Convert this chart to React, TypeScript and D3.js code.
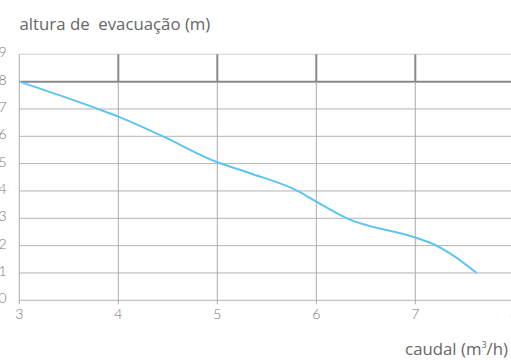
import React from "react";
import * as d3 from "d3";

const xTicks = [3, 4, 5, 6, 7, 8];
const yTicks = [0, 1, 2, 3, 4, 5, 6, 7, 8, 9];
const flowValues = [3, 3.78, 4, 4.42, 5, 5.33, 5.83, 6, 6.31, 7, 7.18, 7.35, 7.62];
const headValues = [8, 7.02, 6.72, 6.05, 5.05, 4.65, 3.97, 3.61, 3.0, 2.3, 2.06, 1.72, 1.0];
const titleY = "altura de  evacuação (m)";
const titleX = "caudal (m";

export default function App() {
  const W = 511, H = 360;
  const x = d3.scaleLinear().domain([3, 8]).range([19.3, 514.3]);
  const y = d3.scaleLinear().domain([0, 9]).range([300.3, 54.3]);
  const pts: [number, number][] = flowValues.map((f, i) => [f, headValues[i]]);
  const line = d3.line<[number, number]>()
    .x(d => x(d[0])).y(d => y(d[1]))
    .curve(d3.curveMonotoneX);
  const font = "Lato, 'Open Sans', sans-serif";
  return (
    <svg width={W} height={H} style={{ position: "absolute", left: 0, top: 0, background: "#fff" }}>
      {yTicks.map(t => (
        <line key={"h" + t} x1={x(3)} x2={W} y1={y(t)} y2={y(t)}
          stroke={t === 8 ? "#888" : t === 9 ? "#d0d0d0" : "#b3b3b3"}
          strokeWidth={t === 8 ? 2 : 1} />
      ))}
      {xTicks.map(t => (
        <g key={"v" + t}>
          <line x1={x(t)} x2={x(t)} y1={y(8)} y2={y(0) + 4} stroke="#aaa" strokeWidth={1} />
          <line x1={x(t)} x2={x(t)} y1={y(9)} y2={y(8)} stroke={t === 3 ? "#aaa" : "#888"} strokeWidth={t === 3 ? 1 : 2} />
        </g>
      ))}
      <path d={line(pts) || ""} fill="none" stroke="#5ec5f2" strokeWidth={2} />
      {yTicks.map(t => (
        <text key={"yl" + t} x={6.5} y={y(t) - 2} dy="0.35em" textAnchor="end"
          fontFamily={font} fontWeight={300} fontSize={14} fill="#777">{t}</text>
      ))}
      {xTicks.map(t => (
        <text key={"xl" + t} x={x(t)} y={318.5} textAnchor="middle"
          fontFamily={font} fontWeight={300} fontSize={14} fill="#777">{t}</text>
      ))}
      <text x={19.5} y={30} fontFamily="'Open Sans', sans-serif" fontSize={16.8} fill="#666"
        style={{ whiteSpace: "pre" }} xmlSpace="preserve">{titleY}</text>
      <text x={508} y={355} textAnchor="end" fontFamily="'Open Sans', sans-serif" fontSize={16.8} fill="#666">
        {titleX}<tspan fontSize={9} dy={-7}>3</tspan><tspan dy={7}>/h)</tspan>
      </text>
    </svg>
  );
}
